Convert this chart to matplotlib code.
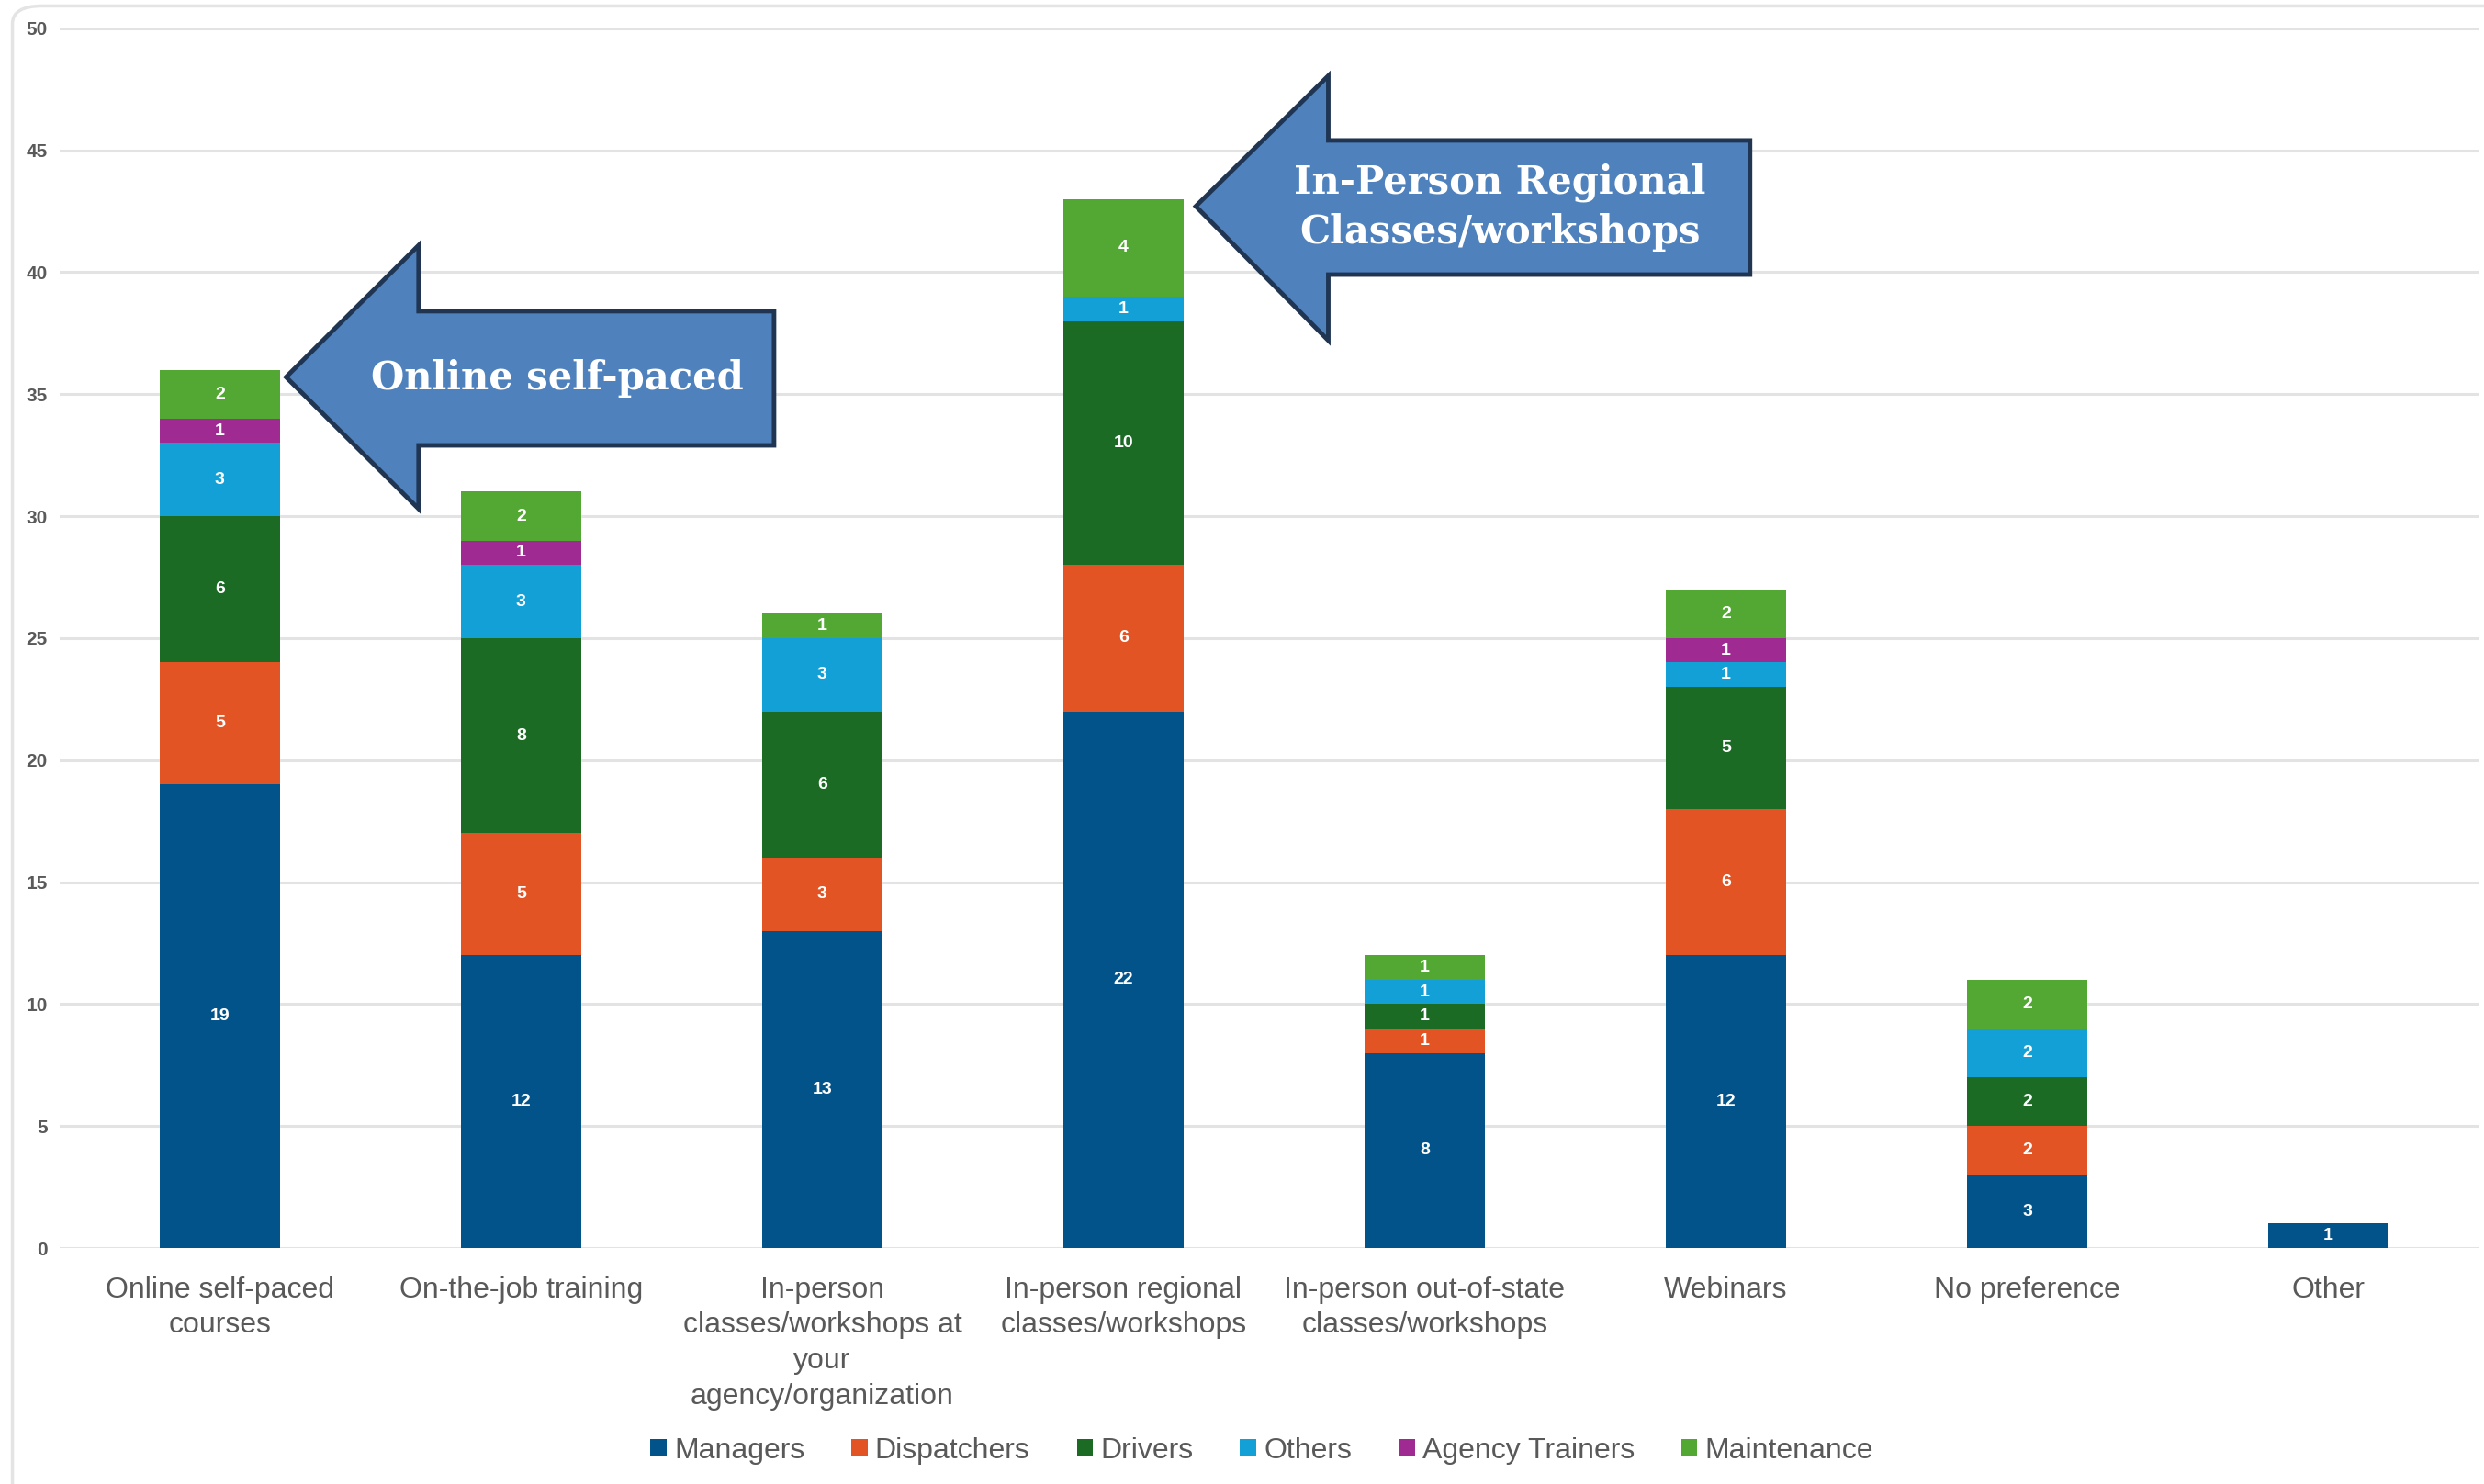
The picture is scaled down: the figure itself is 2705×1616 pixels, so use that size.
import numpy as np
import matplotlib
matplotlib.use("Agg")
import matplotlib.pyplot as plt
from matplotlib.patches import Polygon, Patch, FancyBboxPatch

# categories and stacked counts per role
categories = ["Online self-paced\ncourses", "On-the-job training",
              "In-person\nclasses/workshops at\nyour\nagency/organization",
              "In-person regional\nclasses/workshops",
              "In-person out-of-state\nclasses/workshops",
              "Webinars", "No preference", "Other"]
series_names = ["Managers", "Dispatchers", "Drivers", "Others",
                "Agency Trainers", "Maintenance"]
managers = [19, 12, 13, 22, 8, 12, 3, 1]
dispatchers = [5, 5, 3, 6, 1, 6, 2, 0]
drivers = [6, 8, 6, 10, 1, 5, 2, 0]
others = [3, 3, 3, 1, 1, 1, 2, 0]
agency_trainers = [1, 1, 0, 0, 0, 1, 0, 0]
maintenance = [2, 2, 1, 4, 1, 2, 2, 0]
yticks = [0, 5, 10, 15, 20, 25, 30, 35, 40, 45, 50]

colors = ["#02538A", "#E35424", "#1B6B25", "#12A0D7", "#9E2A92", "#52A833"]

# callout arrows: (tip, head base, right end) in data units
arrow1 = dict(tip=(0.22, 35.7), head_x=0.66, head_top=41.1, head_bot=30.3,
              shaft_top=38.4, shaft_bot=32.9, right=1.84,
              text="Online self-paced")
arrow2 = dict(tip=(3.24, 42.7), head_x=3.68, head_top=48.05, head_bot=37.2,
              shaft_top=45.4, shaft_bot=39.9, right=5.08,
              text="In-Person Regional\nClasses/workshops")

FONT = ["Liberation Sans", "DejaVu Sans"]


def draw_arrow(ax, a):
    pts = [a["tip"], (a["head_x"], a["head_top"]), (a["head_x"], a["shaft_top"]),
           (a["right"], a["shaft_top"]), (a["right"], a["shaft_bot"]),
           (a["head_x"], a["shaft_bot"]), (a["head_x"], a["head_bot"])]
    ax.add_patch(Polygon(pts, closed=True, facecolor="#4F81BD",
                         edgecolor="#1F3552", linewidth=3.5, zorder=5,
                         joinstyle="miter"))
    cx = (a["head_x"] + a["right"]) / 2 - 0.13
    cy = (a["shaft_top"] + a["shaft_bot"]) / 2
    ax.text(cx, cy, a["text"], ha="center", va="center", color="white",
            fontsize=30, fontweight="heavy", family=["DejaVu Serif"],
            linespacing=1.35, zorder=6)


def main():
    fig = plt.figure(figsize=(27.05, 16.16), dpi=100)
    fig.patch.set_facecolor("white")
    fig.patches.append(FancyBboxPatch((0.005, -0.02), 1.02, 1.016,
                                      boxstyle="round,pad=0,rounding_size=0.012",
                                      transform=fig.transFigure, facecolor="none",
                                      edgecolor="#E4E4E4", linewidth=2.5))
    ax = fig.add_axes([0.0242, 0.159, 0.9738, 0.822])

    x = np.arange(len(categories))
    data = [managers, dispatchers, drivers, others, agency_trainers, maintenance]
    bottom = np.zeros(len(categories))
    for name, vals, col in zip(series_names, data, colors):
        vals = np.array(vals, dtype=float)
        bars = ax.bar(x, vals, 0.4, bottom=bottom, color=col, label=name,
                      zorder=3, edgecolor="none")
        for b, v, bt in zip(bars, vals, bottom):
            if v > 0:
                ax.text(b.get_x() + b.get_width() / 2, bt + v / 2, f"{int(v)}",
                        ha="center", va="center", color="white", fontsize=14,
                        fontweight="bold", family=FONT, zorder=4)
        bottom += vals

    ax.set_xlim(-0.53, 7.5)
    ax.set_ylim(0, 50)
    ax.set_yticks(yticks)
    ax.set_yticklabels([str(t) for t in yticks], fontsize=15, fontweight="bold",
                       color="#5A5A5A", family=FONT)
    ax.set_xticks(x)
    ax.set_xticklabels(categories, fontsize=23, color="#595959", family=FONT,
                       linespacing=1.38)
    ax.tick_params(axis="both", length=0)
    ax.tick_params(axis="y", pad=10)
    ax.tick_params(axis="x", pad=22)
    ax.grid(axis="y", color="#E3E3E3", linewidth=2.2, zorder=0)
    for s in ax.spines.values():
        s.set_visible(False)

    draw_arrow(ax, arrow1)
    draw_arrow(ax, arrow2)

    handles = [Patch(facecolor=c, edgecolor="none") for c in colors]
    fig.legend(handles, series_names, loc="center", bbox_to_anchor=(0.508, 0.0225),
               ncol=6, frameon=False, handlelength=0.55, handleheight=0.55,
               handletextpad=0.25, columnspacing=1.6,
               prop={"family": FONT, "size": 23}, labelcolor="#595959")

    fig.savefig("out.png", dpi=100, facecolor="white")


if __name__ == "__main__":
    main()
